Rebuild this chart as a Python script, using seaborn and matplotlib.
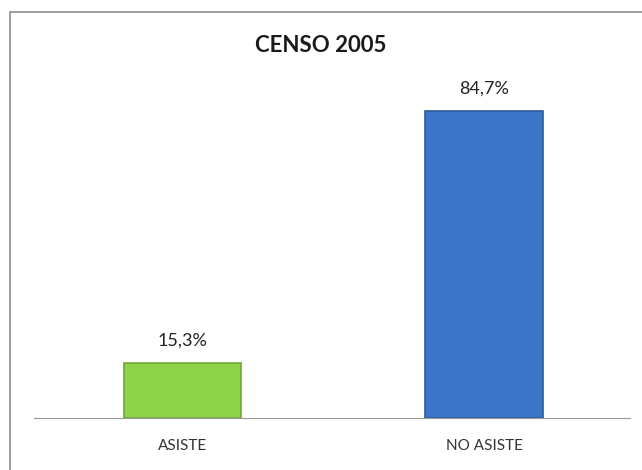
import matplotlib.pyplot as plt
import matplotlib.patches as mpatches
import pandas as pd
import seaborn as sns

categorias = ["ASISTE", "NO ASISTE"]
porcentajes = [15.3, 84.7]
etiquetas = ["15,3%", "84,7%"]
colores = ["#8fd34a", "#3c76c8"]
bordes = ["#6fa83a", "#2c5a9c"]

df = pd.DataFrame({"categoria": categorias, "valor": porcentajes})

sns.set_style("white")
plt.rcParams["font.family"] = ["Lato", "DejaVu Sans"]

fig = plt.figure(figsize=(6.42, 4.70), dpi=100)
fig.patches.append(mpatches.Rectangle((10 / 642, -0.1), 1.2, 1 - 12 / 470 + 0.1,
                                      transform=fig.transFigure, fill=False,
                                      edgecolor="#8c8c8c", linewidth=1.2))
ax = fig.add_axes([34 / 642, 52 / 470, 596 / 642, 362 / 470])

sns.barplot(data=df, x="categoria", y="valor", hue="categoria",
            palette=colores, saturation=1, width=0.39, legend=False, ax=ax)

for bar, borde in zip(ax.patches, bordes):
    bar.set_edgecolor(borde)
    bar.set_linewidth(1.2)

for i, (v, txt) in enumerate(zip(porcentajes, etiquetas)):
    ax.text(i, v + 4, txt, ha="center", va="bottom", fontsize=13, color="#222222")

ax.set_xlim(-0.4925, 1.484)
ax.set_ylim(0, 100)
ax.set_xlabel("")
ax.set_ylabel("")
ax.set_yticks([])
ax.tick_params(axis="x", length=0, pad=15, labelsize=11, labelcolor="#333333")
for s in ["top", "left", "right"]:
    ax.spines[s].set_visible(False)
ax.spines["bottom"].set_color("#999999")

fig.text(0.5, 1 - 46 / 470, "CENSO 2005", ha="center", va="center",
         fontsize=16, fontweight="bold", color="#1a1a1a")

fig.savefig("out.png", dpi=100)
